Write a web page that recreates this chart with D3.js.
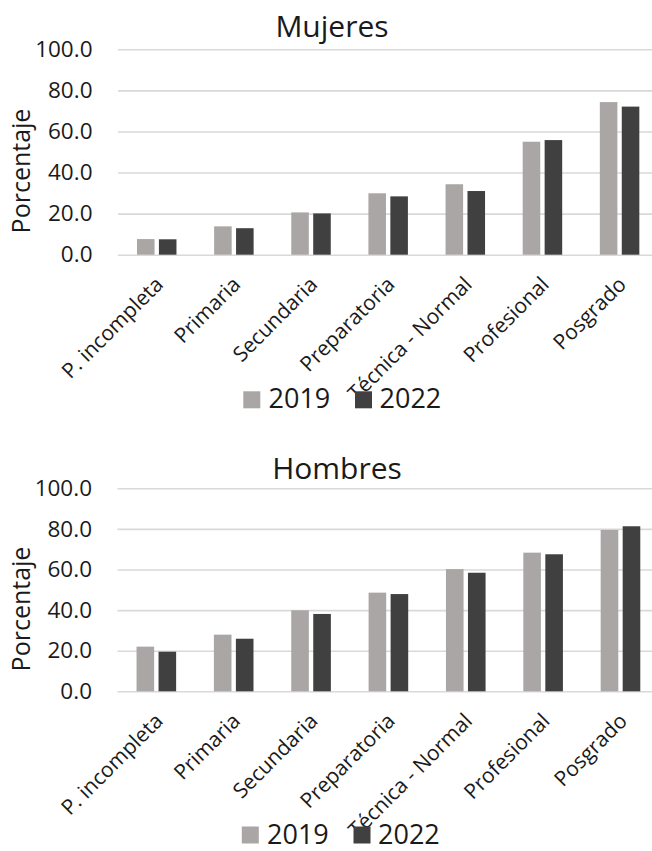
<!DOCTYPE html>
<html>
<head>
<meta charset="utf-8">
<script src="https://cdn.jsdelivr.net/npm/d3@7"></script>
<style>
  html, body { margin: 0; padding: 0; background: #ffffff; }
  svg { display: block; font-family: "Open Sans", "DejaVu Sans", sans-serif; }
</style>
</head>
<body>
<svg id="chart" width="652" height="851"></svg>
<script>
// ---- Data ----
const categories = ["P. incompleta", "Primaria", "Secundaria", "Preparatoria", "Técnica - Normal", "Profesional", "Posgrado"];
const years = ["2019", "2022"];
const mujeres2019 = [7.6, 13.8, 20.6, 29.9, 34.3, 55.0, 74.3];
const mujeres2022 = [7.5, 12.9, 20.1, 28.4, 31.0, 55.8, 72.1];
const hombres2019 = [22.0, 27.9, 39.9, 48.6, 60.2, 68.3, 79.5];
const hombres2022 = [19.5, 25.9, 38.1, 47.9, 58.4, 67.5, 81.3];
const yTicks = [0, 20, 40, 60, 80, 100];
const yAxisLabel = "Porcentaje";
const colors = { "2019": "#aaa6a6", "2022": "#404040" };

const svg = d3.select("#chart");

function drawChart(cfg) {
  const g = svg.append("g");
  const x0 = d3.scaleBand().domain(categories).range([cfg.left, cfg.right]).paddingInner(0).paddingOuter(0);
  const bw = x0.bandwidth();
  const x1 = d3.scaleBand().domain(years).range([0.246 * bw, 0.758 * bw]).paddingInner(0.2).paddingOuter(0);
  const y = d3.scaleLinear().domain([0, 100]).range([cfg.base, cfg.top]);

  // gridlines + y tick labels
  const yAxis = d3.axisLeft(y).tickValues(yTicks).tickFormat(d3.format(".1f"))
    .tickSize(-(cfg.right - cfg.left)).tickPadding(25.5);
  const ya = g.append("g").attr("transform", `translate(${cfg.left},0)`).call(yAxis);
  ya.select(".domain").remove();
  ya.selectAll(".tick line").attr("stroke", "#d9d9d9").attr("stroke-width", 1.6);
  ya.selectAll(".tick text").attr("fill", "#1a1a1a").style("font-size", "22.5px")
    .style("font-family", "'Open Sans', sans-serif");

  // bars
  const rows = categories.map((c, i) => ({ cat: c, vals: [
    { year: "2019", v: cfg.d2019[i] },
    { year: "2022", v: cfg.d2022[i] }
  ]}));
  const grp = g.append("g").selectAll("g").data(rows).join("g")
    .attr("transform", d => `translate(${x0(d.cat)},0)`);
  grp.selectAll("rect").data(d => d.vals).join("rect")
    .attr("x", d => x1(d.year))
    .attr("width", x1.bandwidth())
    .attr("y", d => y(d.v))
    .attr("height", d => y(0) - y(d.v))
    .attr("fill", d => colors[d.year]);

  // x axis labels
  const xAxis = d3.axisBottom(x0).tickSize(0);
  const xa = g.append("g").attr("transform", `translate(0,${cfg.base})`).call(xAxis);
  xa.select(".domain").remove();
  xa.selectAll(".tick text")
    .attr("y", 0).attr("dy", null).attr("x", 0)
    .attr("text-anchor", "end")
    .attr("transform", "translate(8,31) rotate(-45)")
    .attr("fill", "#1a1a1a")
    .style("font-size", "21px")
    .style("font-family", "'Open Sans', sans-serif");

  // title
  g.append("text").attr("x", cfg.titleX).attr("y", cfg.titleY)
    .attr("text-anchor", "middle").attr("fill", "#1a1a1a")
    .style("font-size", "30px").text(cfg.title);

  // y axis title
  g.append("text")
    .attr("transform", `translate(30,${cfg.ylabY}) rotate(-90)`)
    .attr("text-anchor", "middle").attr("fill", "#1a1a1a")
    .style("font-size", "25px").text(yAxisLabel);

  // legend
  const leg = g.append("g");
  const items = [
    { year: "2019", sq: 243.3, tx: 268.5 },
    { year: "2022", sq: 355, tx: 379.5 }
  ];
  items.forEach(it => {
    leg.append("rect").attr("x", it.sq - cfg.legDx).attr("y", cfg.legY - 17)
      .attr("width", 17).attr("height", 17).attr("fill", colors[it.year]);
    leg.append("text").attr("x", it.tx - cfg.legDx).attr("y", cfg.legY)
      .attr("fill", "#1a1a1a").style("font-size", "27px").text(it.year);
  });
}

drawChart({ title: "Mujeres", d2019: mujeres2019, d2022: mujeres2022,
  left: 118, right: 658, base: 254.7, top: 49.3,
  titleX: 332, titleY: 36.7, ylabY: 171, legY: 408.3, legDx: 0 });

drawChart({ title: "Hombres", d2019: hombres2019, d2022: hombres2022,
  left: 117.5, right: 659, base: 691.3, top: 488.3,
  titleX: 337, titleY: 479.3, ylabY: 609, legY: 843.5, legDx: 1.5 });
</script>
</body>
</html>
